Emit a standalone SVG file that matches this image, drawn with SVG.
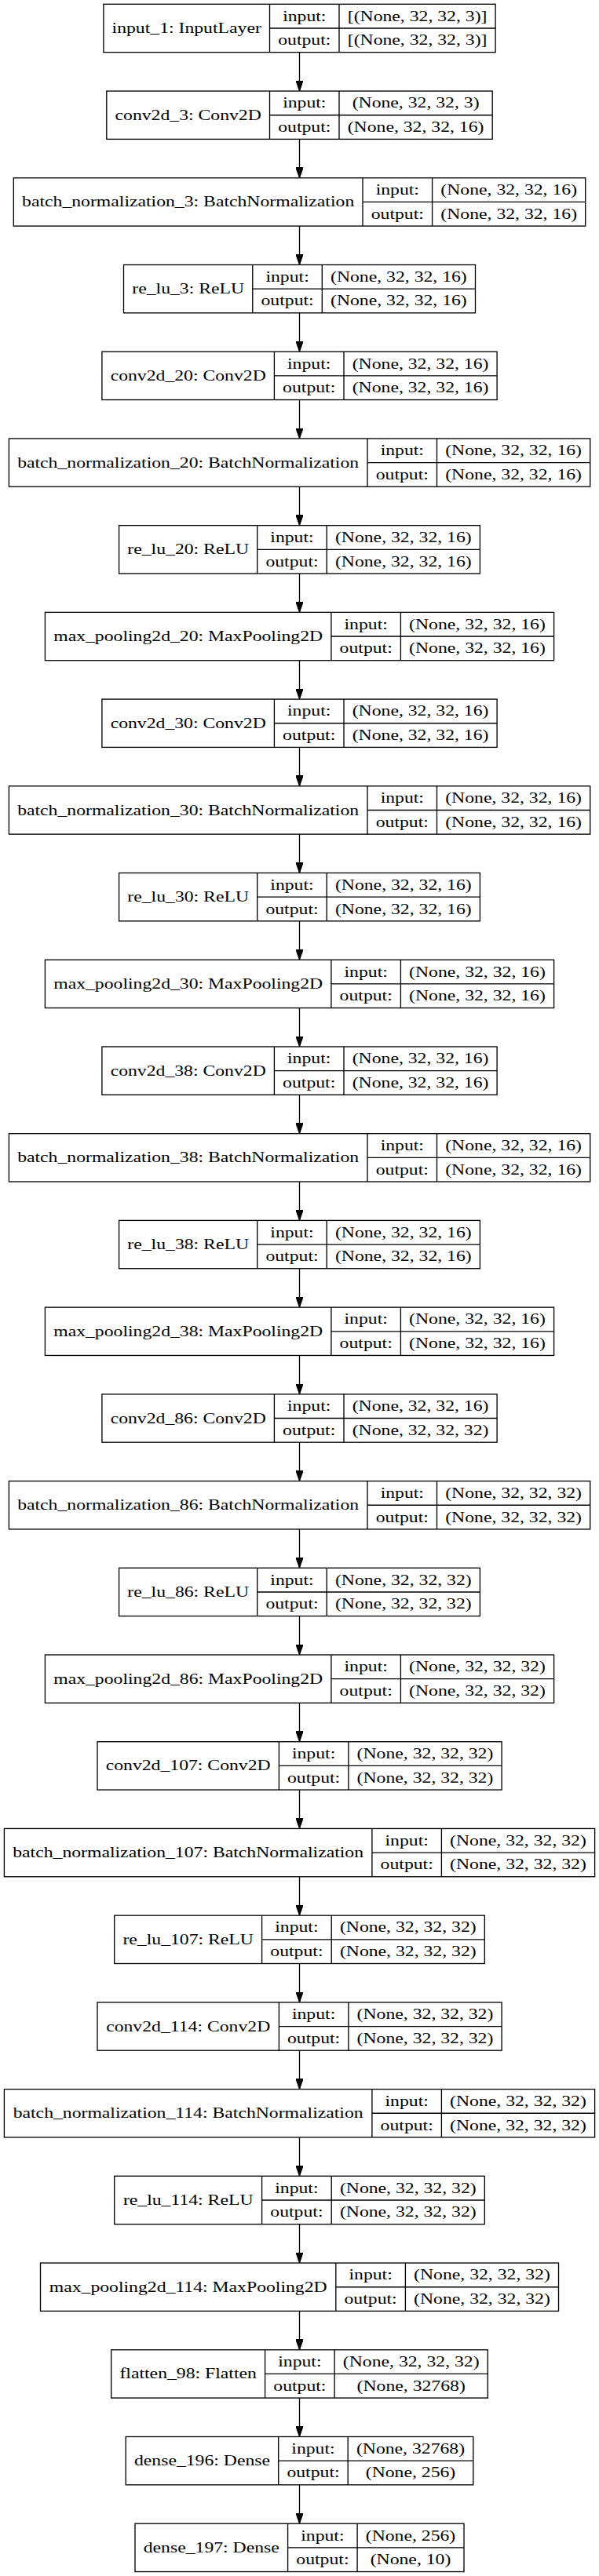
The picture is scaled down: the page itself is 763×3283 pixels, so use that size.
<svg xmlns="http://www.w3.org/2000/svg" width="763" height="3283" viewBox="0 0 763 3283">
<style>
.node rect{fill:#fff;stroke:#000;stroke-width:1.33}
.node path{fill:none;stroke:#000;stroke-width:1.33}
.t{font-family:"Liberation Serif","Times New Roman",serif;font-size:18.67px;fill:#000;text-anchor:middle;transform-box:fill-box;transform-origin:center;transform:scaleX(1.27)}
.edges path{fill:none;stroke:#000;stroke-width:1.33;marker-end:url(#ah)}
</style>
<defs>
<marker id="ah" markerUnits="userSpaceOnUse" viewBox="0 0 13.33 9.33" refX="13.33" refY="4.67" markerWidth="13.33" markerHeight="9.33" orient="auto">
<path d="M0,0L13.33,4.67L0,9.33z" fill="#000" stroke="#000" stroke-width="1"/>
</marker>
</defs>
<rect x="0" y="0" width="763" height="3283" fill="#fff"/>
<g class="edges">
<path d="M381.5 66.66V116.05"/>
<path d="M381.5 177.38V226.77"/>
<path d="M381.5 288.1V337.49"/>
<path d="M381.5 398.82V448.21"/>
<path d="M381.5 509.54V558.93"/>
<path d="M381.5 620.26V669.65"/>
<path d="M381.5 730.98V780.37"/>
<path d="M381.5 841.7V891.09"/>
<path d="M381.5 952.42V1001.81"/>
<path d="M381.5 1063.14V1112.53"/>
<path d="M381.5 1173.86V1223.25"/>
<path d="M381.5 1284.58V1333.97"/>
<path d="M381.5 1395.3V1444.69"/>
<path d="M381.5 1506.02V1555.41"/>
<path d="M381.5 1616.74V1666.13"/>
<path d="M381.5 1727.46V1776.85"/>
<path d="M381.5 1838.18V1887.57"/>
<path d="M381.5 1948.9V1998.29"/>
<path d="M381.5 2059.62V2109.01"/>
<path d="M381.5 2170.34V2219.73"/>
<path d="M381.5 2281.06V2330.45"/>
<path d="M381.5 2391.78V2441.17"/>
<path d="M381.5 2502.5V2551.89"/>
<path d="M381.5 2613.22V2662.61"/>
<path d="M381.5 2723.94V2773.33"/>
<path d="M381.5 2834.66V2884.05"/>
<path d="M381.5 2945.38V2994.77"/>
<path d="M381.5 3056.1V3105.49"/>
<path d="M381.5 3166.82V3216.21"/>
</g>

<g id="input_1" class="node" transform="translate(0,5.33)">
<rect x="131.9" y="0" width="499.2" height="61.33"/>
<path d="M343.5 0V61.33M432 0V61.33M343.5 30.67H631.1"/>
<text class="t" x="237.7" y="36.7">input_1: InputLayer</text>
<text class="t" x="387.8" y="21.3">input:</text>
<text class="t" x="387.8" y="52">output:</text>
<text class="t" x="531.6" y="21.3">[(None, 32, 32, 3)]</text>
<text class="t" x="531.6" y="52">[(None, 32, 32, 3)]</text>
</g>

<g id="conv2d_3" class="node" transform="translate(0,116.05)">
<rect x="135.8" y="0" width="491.4" height="61.33"/>
<path d="M343.5 0V61.33M432 0V61.33M343.5 30.67H627.2"/>
<text class="t" x="239.7" y="36.7">conv2d_3: Conv2D</text>
<text class="t" x="387.8" y="21.3">input:</text>
<text class="t" x="387.8" y="52">output:</text>
<text class="t" x="529.6" y="21.3">(None, 32, 32, 3)</text>
<text class="t" x="529.6" y="52">(None, 32, 32, 16)</text>
</g>

<g id="batch_normalization_3" class="node" transform="translate(0,226.77)">
<rect x="17.3" y="0" width="728.4" height="61.33"/>
<path d="M462 0V61.33M550.6 0V61.33M462 30.67H745.7"/>
<text class="t" x="239.7" y="36.7">batch_normalization_3: BatchNormalization</text>
<text class="t" x="506.3" y="21.3">input:</text>
<text class="t" x="506.3" y="52">output:</text>
<text class="t" x="648.2" y="21.3">(None, 32, 32, 16)</text>
<text class="t" x="648.2" y="52">(None, 32, 32, 16)</text>
</g>

<g id="re_lu_3" class="node" transform="translate(0,337.49)">
<rect x="157.5" y="0" width="448" height="61.33"/>
<path d="M321.8 0V61.33M410.3 0V61.33M321.8 30.67H605.5"/>
<text class="t" x="239.7" y="36.7">re_lu_3: ReLU</text>
<text class="t" x="366.1" y="21.3">input:</text>
<text class="t" x="366.1" y="52">output:</text>
<text class="t" x="507.9" y="21.3">(None, 32, 32, 16)</text>
<text class="t" x="507.9" y="52">(None, 32, 32, 16)</text>
</g>

<g id="conv2d_20" class="node" transform="translate(0,448.21)">
<rect x="129.9" y="0" width="503.2" height="61.33"/>
<path d="M349.4 0V61.33M438 0V61.33M349.4 30.67H633.1"/>
<text class="t" x="239.7" y="36.7">conv2d_20: Conv2D</text>
<text class="t" x="393.7" y="21.3">input:</text>
<text class="t" x="393.7" y="52">output:</text>
<text class="t" x="535.6" y="21.3">(None, 32, 32, 16)</text>
<text class="t" x="535.6" y="52">(None, 32, 32, 16)</text>
</g>

<g id="batch_normalization_20" class="node" transform="translate(0,558.93)">
<rect x="11.4" y="0" width="740.3" height="61.33"/>
<path d="M468 0V61.33M556.5 0V61.33M468 30.67H751.7"/>
<text class="t" x="239.7" y="36.7">batch_normalization_20: BatchNormalization</text>
<text class="t" x="512.3" y="21.3">input:</text>
<text class="t" x="512.3" y="52">output:</text>
<text class="t" x="654.1" y="21.3">(None, 32, 32, 16)</text>
<text class="t" x="654.1" y="52">(None, 32, 32, 16)</text>
</g>

<g id="re_lu_20" class="node" transform="translate(0,669.65)">
<rect x="151.6" y="0" width="459.8" height="61.33"/>
<path d="M327.7 0V61.33M416.2 0V61.33M327.7 30.67H611.4"/>
<text class="t" x="239.7" y="36.7">re_lu_20: ReLU</text>
<text class="t" x="372" y="21.3">input:</text>
<text class="t" x="372" y="52">output:</text>
<text class="t" x="513.8" y="21.3">(None, 32, 32, 16)</text>
<text class="t" x="513.8" y="52">(None, 32, 32, 16)</text>
</g>

<g id="max_pooling2d_20" class="node" transform="translate(0,780.37)">
<rect x="57.4" y="0" width="648.2" height="61.33"/>
<path d="M421.9 0V61.33M510.4 0V61.33M421.9 30.67H705.6"/>
<text class="t" x="239.7" y="36.7">max_pooling2d_20: MaxPooling2D</text>
<text class="t" x="466.2" y="21.3">input:</text>
<text class="t" x="466.2" y="52">output:</text>
<text class="t" x="608" y="21.3">(None, 32, 32, 16)</text>
<text class="t" x="608" y="52">(None, 32, 32, 16)</text>
</g>

<g id="conv2d_30" class="node" transform="translate(0,891.09)">
<rect x="129.9" y="0" width="503.2" height="61.33"/>
<path d="M349.4 0V61.33M438 0V61.33M349.4 30.67H633.1"/>
<text class="t" x="239.7" y="36.7">conv2d_30: Conv2D</text>
<text class="t" x="393.7" y="21.3">input:</text>
<text class="t" x="393.7" y="52">output:</text>
<text class="t" x="535.6" y="21.3">(None, 32, 32, 16)</text>
<text class="t" x="535.6" y="52">(None, 32, 32, 16)</text>
</g>

<g id="batch_normalization_30" class="node" transform="translate(0,1001.81)">
<rect x="11.4" y="0" width="740.3" height="61.33"/>
<path d="M468 0V61.33M556.5 0V61.33M468 30.67H751.7"/>
<text class="t" x="239.7" y="36.7">batch_normalization_30: BatchNormalization</text>
<text class="t" x="512.3" y="21.3">input:</text>
<text class="t" x="512.3" y="52">output:</text>
<text class="t" x="654.1" y="21.3">(None, 32, 32, 16)</text>
<text class="t" x="654.1" y="52">(None, 32, 32, 16)</text>
</g>

<g id="re_lu_30" class="node" transform="translate(0,1112.53)">
<rect x="151.6" y="0" width="459.8" height="61.33"/>
<path d="M327.7 0V61.33M416.2 0V61.33M327.7 30.67H611.4"/>
<text class="t" x="239.7" y="36.7">re_lu_30: ReLU</text>
<text class="t" x="372" y="21.3">input:</text>
<text class="t" x="372" y="52">output:</text>
<text class="t" x="513.8" y="21.3">(None, 32, 32, 16)</text>
<text class="t" x="513.8" y="52">(None, 32, 32, 16)</text>
</g>

<g id="max_pooling2d_30" class="node" transform="translate(0,1223.25)">
<rect x="57.4" y="0" width="648.2" height="61.33"/>
<path d="M421.9 0V61.33M510.4 0V61.33M421.9 30.67H705.6"/>
<text class="t" x="239.7" y="36.7">max_pooling2d_30: MaxPooling2D</text>
<text class="t" x="466.2" y="21.3">input:</text>
<text class="t" x="466.2" y="52">output:</text>
<text class="t" x="608" y="21.3">(None, 32, 32, 16)</text>
<text class="t" x="608" y="52">(None, 32, 32, 16)</text>
</g>

<g id="conv2d_38" class="node" transform="translate(0,1333.97)">
<rect x="129.9" y="0" width="503.2" height="61.33"/>
<path d="M349.4 0V61.33M438 0V61.33M349.4 30.67H633.1"/>
<text class="t" x="239.7" y="36.7">conv2d_38: Conv2D</text>
<text class="t" x="393.7" y="21.3">input:</text>
<text class="t" x="393.7" y="52">output:</text>
<text class="t" x="535.6" y="21.3">(None, 32, 32, 16)</text>
<text class="t" x="535.6" y="52">(None, 32, 32, 16)</text>
</g>

<g id="batch_normalization_38" class="node" transform="translate(0,1444.69)">
<rect x="11.4" y="0" width="740.3" height="61.33"/>
<path d="M468 0V61.33M556.5 0V61.33M468 30.67H751.7"/>
<text class="t" x="239.7" y="36.7">batch_normalization_38: BatchNormalization</text>
<text class="t" x="512.3" y="21.3">input:</text>
<text class="t" x="512.3" y="52">output:</text>
<text class="t" x="654.1" y="21.3">(None, 32, 32, 16)</text>
<text class="t" x="654.1" y="52">(None, 32, 32, 16)</text>
</g>

<g id="re_lu_38" class="node" transform="translate(0,1555.41)">
<rect x="151.6" y="0" width="459.8" height="61.33"/>
<path d="M327.7 0V61.33M416.2 0V61.33M327.7 30.67H611.4"/>
<text class="t" x="239.7" y="36.7">re_lu_38: ReLU</text>
<text class="t" x="372" y="21.3">input:</text>
<text class="t" x="372" y="52">output:</text>
<text class="t" x="513.8" y="21.3">(None, 32, 32, 16)</text>
<text class="t" x="513.8" y="52">(None, 32, 32, 16)</text>
</g>

<g id="max_pooling2d_38" class="node" transform="translate(0,1666.13)">
<rect x="57.4" y="0" width="648.2" height="61.33"/>
<path d="M421.9 0V61.33M510.4 0V61.33M421.9 30.67H705.6"/>
<text class="t" x="239.7" y="36.7">max_pooling2d_38: MaxPooling2D</text>
<text class="t" x="466.2" y="21.3">input:</text>
<text class="t" x="466.2" y="52">output:</text>
<text class="t" x="608" y="21.3">(None, 32, 32, 16)</text>
<text class="t" x="608" y="52">(None, 32, 32, 16)</text>
</g>

<g id="conv2d_86" class="node" transform="translate(0,1776.85)">
<rect x="129.9" y="0" width="503.2" height="61.33"/>
<path d="M349.4 0V61.33M438 0V61.33M349.4 30.67H633.1"/>
<text class="t" x="239.7" y="36.7">conv2d_86: Conv2D</text>
<text class="t" x="393.7" y="21.3">input:</text>
<text class="t" x="393.7" y="52">output:</text>
<text class="t" x="535.6" y="21.3">(None, 32, 32, 16)</text>
<text class="t" x="535.6" y="52">(None, 32, 32, 32)</text>
</g>

<g id="batch_normalization_86" class="node" transform="translate(0,1887.57)">
<rect x="11.4" y="0" width="740.3" height="61.33"/>
<path d="M468 0V61.33M556.5 0V61.33M468 30.67H751.7"/>
<text class="t" x="239.7" y="36.7">batch_normalization_86: BatchNormalization</text>
<text class="t" x="512.3" y="21.3">input:</text>
<text class="t" x="512.3" y="52">output:</text>
<text class="t" x="654.1" y="21.3">(None, 32, 32, 32)</text>
<text class="t" x="654.1" y="52">(None, 32, 32, 32)</text>
</g>

<g id="re_lu_86" class="node" transform="translate(0,1998.29)">
<rect x="151.6" y="0" width="459.8" height="61.33"/>
<path d="M327.7 0V61.33M416.2 0V61.33M327.7 30.67H611.4"/>
<text class="t" x="239.7" y="36.7">re_lu_86: ReLU</text>
<text class="t" x="372" y="21.3">input:</text>
<text class="t" x="372" y="52">output:</text>
<text class="t" x="513.8" y="21.3">(None, 32, 32, 32)</text>
<text class="t" x="513.8" y="52">(None, 32, 32, 32)</text>
</g>

<g id="max_pooling2d_86" class="node" transform="translate(0,2109.01)">
<rect x="57.4" y="0" width="648.2" height="61.33"/>
<path d="M421.9 0V61.33M510.4 0V61.33M421.9 30.67H705.6"/>
<text class="t" x="239.7" y="36.7">max_pooling2d_86: MaxPooling2D</text>
<text class="t" x="466.2" y="21.3">input:</text>
<text class="t" x="466.2" y="52">output:</text>
<text class="t" x="608" y="21.3">(None, 32, 32, 32)</text>
<text class="t" x="608" y="52">(None, 32, 32, 32)</text>
</g>

<g id="conv2d_107" class="node" transform="translate(0,2219.73)">
<rect x="124" y="0" width="515.1" height="61.33"/>
<path d="M355.4 0V61.33M443.9 0V61.33M355.4 30.67H639.1"/>
<text class="t" x="239.7" y="36.7">conv2d_107: Conv2D</text>
<text class="t" x="399.6" y="21.3">input:</text>
<text class="t" x="399.6" y="52">output:</text>
<text class="t" x="541.5" y="21.3">(None, 32, 32, 32)</text>
<text class="t" x="541.5" y="52">(None, 32, 32, 32)</text>
</g>

<g id="batch_normalization_107" class="node" transform="translate(0,2330.45)">
<rect x="5.4" y="0" width="752.2" height="61.33"/>
<path d="M473.9 0V61.33M562.4 0V61.33M473.9 30.67H757.6"/>
<text class="t" x="239.7" y="36.7">batch_normalization_107: BatchNormalization</text>
<text class="t" x="518.2" y="21.3">input:</text>
<text class="t" x="518.2" y="52">output:</text>
<text class="t" x="660" y="21.3">(None, 32, 32, 32)</text>
<text class="t" x="660" y="52">(None, 32, 32, 32)</text>
</g>

<g id="re_lu_107" class="node" transform="translate(0,2441.17)">
<rect x="145.7" y="0" width="471.6" height="61.33"/>
<path d="M333.6 0V61.33M422.2 0V61.33M333.6 30.67H617.3"/>
<text class="t" x="239.7" y="36.7">re_lu_107: ReLU</text>
<text class="t" x="377.9" y="21.3">input:</text>
<text class="t" x="377.9" y="52">output:</text>
<text class="t" x="519.8" y="21.3">(None, 32, 32, 32)</text>
<text class="t" x="519.8" y="52">(None, 32, 32, 32)</text>
</g>

<g id="conv2d_114" class="node" transform="translate(0,2551.89)">
<rect x="124" y="0" width="515.1" height="61.33"/>
<path d="M355.4 0V61.33M443.9 0V61.33M355.4 30.67H639.1"/>
<text class="t" x="239.7" y="36.7">conv2d_114: Conv2D</text>
<text class="t" x="399.6" y="21.3">input:</text>
<text class="t" x="399.6" y="52">output:</text>
<text class="t" x="541.5" y="21.3">(None, 32, 32, 32)</text>
<text class="t" x="541.5" y="52">(None, 32, 32, 32)</text>
</g>

<g id="batch_normalization_114" class="node" transform="translate(0,2662.61)">
<rect x="5.4" y="0" width="752.2" height="61.33"/>
<path d="M473.9 0V61.33M562.4 0V61.33M473.9 30.67H757.6"/>
<text class="t" x="239.7" y="36.7">batch_normalization_114: BatchNormalization</text>
<text class="t" x="518.2" y="21.3">input:</text>
<text class="t" x="518.2" y="52">output:</text>
<text class="t" x="660" y="21.3">(None, 32, 32, 32)</text>
<text class="t" x="660" y="52">(None, 32, 32, 32)</text>
</g>

<g id="re_lu_114" class="node" transform="translate(0,2773.33)">
<rect x="145.7" y="0" width="471.6" height="61.33"/>
<path d="M333.6 0V61.33M422.2 0V61.33M333.6 30.67H617.3"/>
<text class="t" x="239.7" y="36.7">re_lu_114: ReLU</text>
<text class="t" x="377.9" y="21.3">input:</text>
<text class="t" x="377.9" y="52">output:</text>
<text class="t" x="519.8" y="21.3">(None, 32, 32, 32)</text>
<text class="t" x="519.8" y="52">(None, 32, 32, 32)</text>
</g>

<g id="max_pooling2d_114" class="node" transform="translate(0,2884.05)">
<rect x="51.5" y="0" width="660" height="61.33"/>
<path d="M427.8 0V61.33M516.4 0V61.33M427.8 30.67H711.5"/>
<text class="t" x="239.7" y="36.7">max_pooling2d_114: MaxPooling2D</text>
<text class="t" x="472.1" y="21.3">input:</text>
<text class="t" x="472.1" y="52">output:</text>
<text class="t" x="614" y="21.3">(None, 32, 32, 32)</text>
<text class="t" x="614" y="52">(None, 32, 32, 32)</text>
</g>

<g id="flatten_98" class="node" transform="translate(0,2994.77)">
<rect x="141.7" y="0" width="479.6" height="61.33"/>
<path d="M337.6 0V61.33M426.1 0V61.33M337.6 30.67H621.3"/>
<text class="t" x="239.7" y="36.7">flatten_98: Flatten</text>
<text class="t" x="381.9" y="21.3">input:</text>
<text class="t" x="381.9" y="52">output:</text>
<text class="t" x="523.7" y="21.3">(None, 32, 32, 32)</text>
<text class="t" x="523.7" y="52">(None, 32768)</text>
</g>

<g id="dense_196" class="node" transform="translate(0,3105.49)">
<rect x="160.2" y="0" width="442.6" height="61.33"/>
<path d="M354.7 0V61.33M443.2 0V61.33M354.7 30.67H602.8"/>
<text class="t" x="257.5" y="36.7">dense_196: Dense</text>
<text class="t" x="399" y="21.3">input:</text>
<text class="t" x="399" y="52">output:</text>
<text class="t" x="523" y="21.3">(None, 32768)</text>
<text class="t" x="523" y="52">(None, 256)</text>
</g>

<g id="dense_197" class="node" transform="translate(0,3216.21)">
<rect x="172" y="0" width="419" height="61.33"/>
<path d="M366.6 0V61.33M455.1 0V61.33M366.6 30.67H591"/>
<text class="t" x="269.3" y="36.7">dense_197: Dense</text>
<text class="t" x="410.9" y="21.3">input:</text>
<text class="t" x="410.9" y="52">output:</text>
<text class="t" x="523" y="21.3">(None, 256)</text>
<text class="t" x="523" y="52">(None, 10)</text>
</g>
</svg>
